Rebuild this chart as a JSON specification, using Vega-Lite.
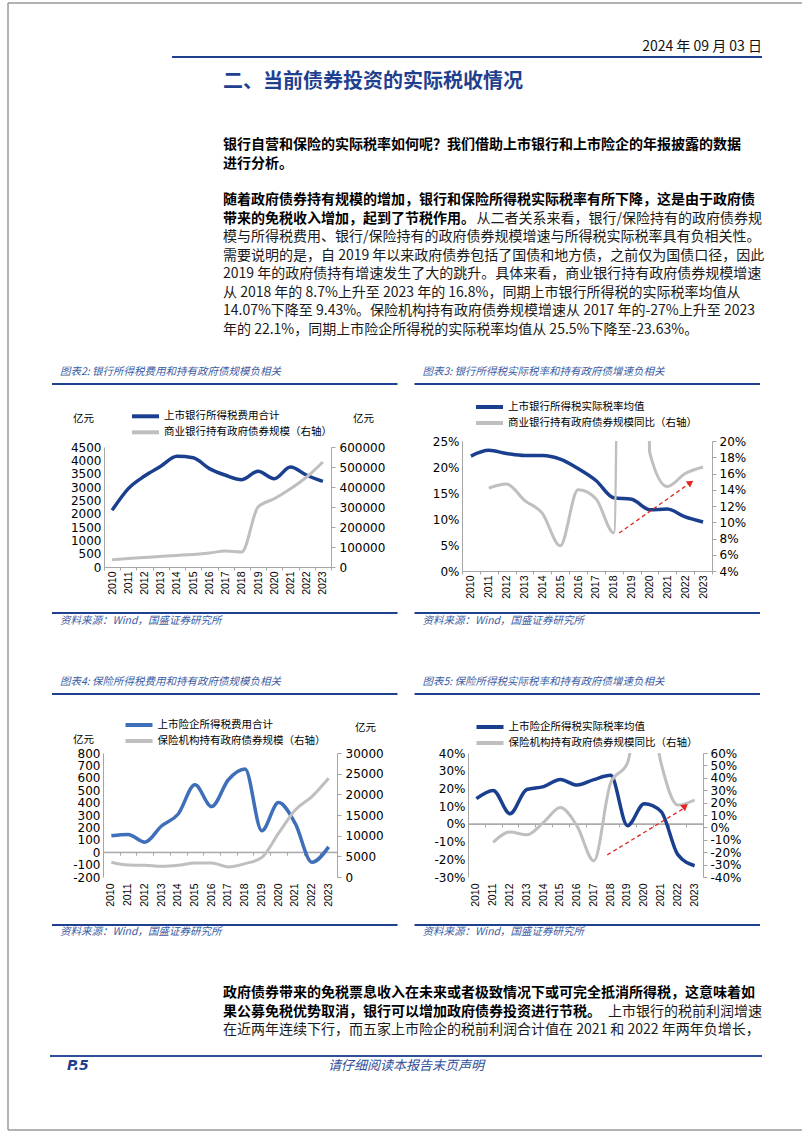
{
"$schema": "https://vega.github.io/schema/vega-lite/v6.json",
"padding": 0,
"background": "white",
"spacing": 0,
"bounds": "flush",
"config": {
 "view": {"stroke": null},
 "axis": {"grid": false, "labelColor": "#000000", "domainColor": "#A6A6A6", "tickColor": "#A6A6A6", "labelFont": "DejaVu Sans", "labelFontSize": 12, "titleFont": "Noto Sans CJK SC", "titleFontSize": 10.5, "titleFontWeight": "normal", "titleColor": "#000000", "titleAngle": 0, "titleAlign": "center", "titleBaseline": "middle", "tickSize": 3, "labelPadding": 2},
 "axisX": {"labelAngle": -90, "labelFontSize": 10.5, "labelFont": "Liberation Sans"},
 "legend": {"orient": "none", "symbolType": "M-2.25,0H2.25", "symbolSize": 144, "symbolStrokeWidth": 4, "labelFont": "Noto Sans CJK SC", "labelFontSize": 10.5, "labelColor": "#000000", "labelOffset": 10.5, "rowPadding": -1, "padding": 0, "labelLimit": 300}
},
"resolve": {"scale": {"x": "independent", "y": "independent", "color": "independent"}},
"vconcat": [
 {"width": 802, "height": 38,
  "resolve": {"scale": {"x": "independent", "y": "independent"}},
  "layer": [
   {"data": {"values": [{"e": "L"}, {"e": "R"}]},
    "mark": {"type": "rule", "color": "#9A9A9A", "strokeWidth": 1.5, "strokeJoin": "bevel"},
    "encoding": {
     "x": {"field": "e", "type": "nominal", "scale": {"type": "point", "domain": ["L", "R"], "range": [3, 799], "padding": 0}, "axis": null},
     "y": {"datum": 0, "type": "quantitative", "scale": {"domain": [0, 1], "range": [3, 1130], "nice": false, "zero": false}, "axis": null},
     "y2": {"datum": 1}}},
   {"data": {"values": [{"e": "T"}, {"e": "B"}]},
    "mark": {"type": "rule", "color": "#9A9A9A", "strokeWidth": 1.5, "strokeJoin": "bevel"},
    "encoding": {
     "y": {"field": "e", "type": "nominal", "scale": {"type": "point", "domain": ["T", "B"], "range": [3, 1130], "padding": 0}, "axis": null},
     "x": {"datum": 0, "type": "quantitative", "scale": {"domain": [0, 1], "range": [3, 799], "nice": false, "zero": false}, "axis": null},
     "x2": {"datum": 1}}}
  ]},
 {"width": 802, "height": 18,
  "data": {"values": [{"col": "body", "ln": 0, "t": "2024 年 09 月 03 日"}]},
  "mark": {"type": "text", "align": "right", "baseline": "middle", "font": "Noto Sans CJK SC", "fontSize": 14, "color": "#111111"},
  "encoding": {
   "x": {"field": "col", "type": "nominal", "scale": {"type": "band", "domain": ["body"], "range": [218, 757], "paddingInner": 0, "paddingOuter": 0}, "bandPosition": 1, "axis": null},
   "y": {"field": "ln", "type": "ordinal", "scale": {"type": "band", "paddingInner": 0, "paddingOuter": 0}, "axis": null},
   "text": {"field": "t"}}},
 {"width": 802, "height": 2,
  "data": {"values": [{"col": "hdr"}]},
  "mark": {"type": "rect", "color": "#1F3F8F"},
  "encoding": {"x": {"field": "col", "type": "nominal", "scale": {"type": "band", "domain": ["hdr"], "range": [167, 757], "paddingInner": 0, "paddingOuter": 0}, "axis": null}}},
 {"width": 802, "height": 48,
  "data": {"values": [{"col": "body", "ln": 0, "t": "二、当前债券投资的实际税收情况"}]},
  "mark": {"type": "text", "align": "left", "baseline": "middle", "font": "Noto Sans CJK SC", "fontSize": 20, "fontWeight": "bold", "color": "#1F3F8F"},
  "encoding": {
   "x": {"field": "col", "type": "nominal", "scale": {"type": "band", "domain": ["body"], "range": [218, 757], "paddingInner": 0, "paddingOuter": 0}, "bandPosition": 0, "axis": null},
   "y": {"field": "ln", "type": "ordinal", "scale": {"type": "band", "paddingInner": 0, "paddingOuter": 0}, "axis": null},
   "text": {"field": "t"}}},
 {"width": 802, "height": 30, "data": {"values": []}, "mark": "text"},
 {"width": 802, "height": 37,
  "data": {"values": [
   {"col": "body", "ln": 0, "w": "b", "t": "银行自营和保险的实际税率如何呢？我们借助上市银行和上市险企的年报披露的数据"},
   {"col": "body", "ln": 1, "w": "b", "t": "进行分析。"}
  ]},
  "mark": {"type": "text", "align": "left", "baseline": "middle", "font": "Noto Sans CJK SC", "fontSize": 14, "fontWeight": "bold", "color": "#000000"},
  "encoding": {
   "x": {"field": "col", "type": "nominal", "scale": {"type": "band", "domain": ["body"], "range": [218, 757], "paddingInner": 0, "paddingOuter": 0}, "bandPosition": 0, "axis": null},
   "y": {"field": "ln", "type": "ordinal", "scale": {"type": "band", "paddingInner": 0, "paddingOuter": 0}, "axis": null},
   "text": {"field": "t"}}},
 {"width": 802, "height": 18, "data": {"values": []}, "mark": "text"},
 {"width": 802, "height": 148,
  "data": {"values": [
   {"col": "body", "ln": 0, "w": "b", "a": "L", "t": "随着政府债券持有规模的增加，银行和保险所得税实际税率有所下降，这是由于政府债"},
   {"col": "body", "ln": 1, "w": "b", "a": "L", "t": "带来的免税收入增加，起到了节税作用。"},
   {"col": "body", "ln": 1, "w": "n", "a": "R", "t": "从二者关系来看，银行/保险持有的政府债券规"},
   {"col": "body", "ln": 2, "w": "n", "a": "L", "t": "模与所得税费用、银行/保险持有的政府债券规模增速与所得税实际税率具有负相关性。"},
   {"col": "body", "ln": 3, "w": "n", "a": "L", "t": "需要说明的是，自 2019 年以来政府债券包括了国债和地方债，之前仅为国债口径，因此"},
   {"col": "body", "ln": 4, "w": "n", "a": "L", "t": "2019 年的政府债持有增速发生了大的跳升。具体来看，商业银行持有政府债券规模增速"},
   {"col": "body", "ln": 5, "w": "n", "a": "L", "t": "从 2018 年的 8.7%上升至 2023 年的 16.8%，同期上市银行所得税的实际税率均值从"},
   {"col": "body", "ln": 6, "w": "n", "a": "L", "t": "14.07%下降至 9.43%。保险机构持有政府债券规模增速从 2017 年的-27%上升至 2023"},
   {"col": "body", "ln": 7, "w": "n", "a": "L", "t": "年的 22.1%，同期上市险企所得税的实际税率均值从 25.5%下降至-23.63%。"}
  ]},
  "encoding": {
   "y": {"field": "ln", "type": "ordinal", "scale": {"type": "band", "paddingInner": 0, "paddingOuter": 0}, "axis": null},
   "text": {"field": "t"}},
  "layer": [
   {"transform": [{"filter": "datum.w == 'b'"}],
    "mark": {"type": "text", "align": "left", "baseline": "middle", "font": "Noto Sans CJK SC", "fontSize": 14, "fontWeight": "bold", "color": "#000000"},
    "encoding": {"x": {"field": "col", "type": "nominal", "scale": {"type": "band", "domain": ["body"], "range": [218, 757], "paddingInner": 0, "paddingOuter": 0}, "bandPosition": 0, "axis": null}}},
   {"transform": [{"filter": "datum.w == 'n' && datum.a == 'L'"}],
    "mark": {"type": "text", "align": "left", "baseline": "middle", "font": "Noto Sans CJK SC", "fontSize": 14, "color": "#1A1A1A"},
    "encoding": {"x": {"field": "col", "type": "nominal", "scale": {"type": "band", "domain": ["body"], "range": [218, 757], "paddingInner": 0, "paddingOuter": 0}, "bandPosition": 0, "axis": null}}},
   {"transform": [{"filter": "datum.w == 'n' && datum.a == 'R'"}],
    "mark": {"type": "text", "align": "right", "baseline": "middle", "font": "Noto Sans CJK SC", "fontSize": 14, "color": "#1A1A1A"},
    "encoding": {"x": {"field": "col", "type": "nominal", "scale": {"type": "band", "domain": ["body"], "range": [218, 757], "paddingInner": 0, "paddingOuter": 0}, "bandPosition": 1, "axis": null}}}
  ]},
 {"width": 802, "height": 22, "data": {"values": []}, "mark": "text"},
 {"width": 802, "height": 22,
  "data": {"values": [
   {"p": "c2", "ln": 0, "t": "图表2: 银行所得税费用和持有政府债规模负相关"},
   {"p": "c3", "ln": 0, "t": "图表3: 银行所得税实际税率和持有政府债增速负相关"}
  ]},
  "mark": {"type": "text", "align": "left", "baseline": "middle", "dx": 8, "font": "Noto Sans CJK SC", "fontSize": 10.5, "fontStyle": "italic", "color": "#3A5CA3"},
  "encoding": {
   "x": {"field": "p", "type": "nominal", "scale": {"type": "band", "domain": ["c2", "c3"], "range": [47, 755], "paddingInner": 0.047, "paddingOuter": 0}, "bandPosition": 0, "axis": null},
   "y": {"field": "ln", "type": "ordinal", "scale": {"type": "band", "paddingInner": 0, "paddingOuter": 0}, "axis": null},
   "text": {"field": "t"}}},
 {"width": 802, "height": 2,
  "data": {"values": [{"p": "c2"}, {"p": "c3"}]},
  "mark": {"type": "rect", "color": "#1F3F8F"},
  "encoding": {"x": {"field": "p", "type": "nominal", "scale": {"type": "band", "domain": ["c2", "c3"], "range": [47, 755], "paddingInner": 0.047, "paddingOuter": 0}, "axis": null}}},
 {"width": 802, "height": 56, "data": {"values": []}, "mark": "text"},
 {"width": 802, "height": 130,
  "resolve": {"scale": {"x": "independent", "y": "independent", "color": "independent"}},
  "layer": [
   {"data": {"values": [
     {"year": "2010", "tax": 2125, "gov": 36700},
     {"year": "2011", "tax": 2940, "gov": 43000},
     {"year": "2012", "tax": 3410, "gov": 48000},
     {"year": "2013", "tax": 3775, "gov": 53000},
     {"year": "2014", "tax": 4150, "gov": 58000},
     {"year": "2015", "tax": 4100, "gov": 63000},
     {"year": "2016", "tax": 3690, "gov": 70000},
     {"year": "2017", "tax": 3440, "gov": 80000},
     {"year": "2018", "tax": 3275, "gov": 75000},
     {"year": "2019", "tax": 3590, "gov": 300000},
     {"year": "2020", "tax": 3310, "gov": 341000},
     {"year": "2021", "tax": 3750, "gov": 391000},
     {"year": "2022", "tax": 3440, "gov": 450000},
     {"year": "2023", "tax": 3210, "gov": 525000}
    ]},
    "resolve": {"scale": {"y": "independent"}},
    "layer": [
     {"mark": {"type": "line", "interpolate": "monotone", "strokeWidth": 3.5},
      "encoding": {
       "x": {"field": "year", "type": "ordinal", "scale": {"type": "band", "range": [99, 326], "paddingInner": 0, "paddingOuter": 0}, "axis": {"orient": "bottom", "offset": -4, "title": null, "tickBand": "extent", "tickSize": 3, "labelPadding": 1}},
       "y": {"field": "tax", "type": "quantitative", "scale": {"domain": [0, 4500], "range": [126, 6], "nice": false, "zero": false}, "axis": {"orient": "left", "offset": -99, "values": [0, 500, 1000, 1500, 2000, 2500, 3000, 3500, 4000, 4500], "labelExpr": "'' + datum.value", "title": "亿元", "titleX": -21, "titleY": -23, "ticks": false, "labelPadding": 3}},
       "color": {"datum": "上市银行所得税费用合计", "type": "nominal", "scale": {"domain": ["上市银行所得税费用合计", "商业银行持有政府债券规模（右轴）"], "range": ["#1A3F8F", "#BFBFBF"]}, "legend": {"title": null, "legendX": 132.5, "legendY": -32.7}}}},
     {"mark": {"type": "line", "interpolate": "monotone", "strokeWidth": 3},
      "encoding": {
       "x": {"field": "year", "type": "ordinal", "scale": {"type": "band", "range": [99, 326], "paddingInner": 0, "paddingOuter": 0}, "axis": {"orient": "bottom", "offset": -4, "title": null, "tickBand": "extent", "tickSize": 3, "labelPadding": 1}},
       "y": {"field": "gov", "type": "quantitative", "scale": {"domain": [0, 600000], "range": [126, 6], "nice": false, "zero": false}, "axis": {"orient": "right", "offset": -476, "values": [0, 100000, 200000, 300000, 400000, 500000, 600000], "labelExpr": "'' + datum.value", "title": "亿元", "titleX": 32, "titleY": -23, "tickSize": 4, "labelPadding": 4}},
       "color": {"datum": "商业银行持有政府债券规模（右轴）", "type": "nominal", "scale": {"domain": ["上市银行所得税费用合计", "商业银行持有政府债券规模（右轴）"], "range": ["#1A3F8F", "#BFBFBF"]}, "legend": {"title": null, "legendX": 132.5, "legendY": -32.7}}}}
    ]},
   {"resolve": {"scale": {"x": "independent", "y": "independent"}},
    "layer": [
     {"data": {"values": [
       {"year": "2010", "rate": 22.1},
       {"year": "2011", "rate": 23.2, "g": 14.2},
       {"year": "2012", "rate": 22.6, "g": 14.7},
       {"year": "2013", "rate": 22.2, "g": 12.7},
       {"year": "2014", "rate": 22.2, "g": 11.1},
       {"year": "2015", "rate": 21.5, "g": 7.1},
       {"year": "2016", "rate": 19.7, "g": 14.0},
       {"year": "2017", "rate": 17.4, "g": 12.9},
       {"year": "2018", "rate": 14.07, "g": 8.7},
       {"year": "2019", "rate": 13.8, "g": 300},
       {"year": "2020", "rate": 11.8, "g": 18.7},
       {"year": "2021", "rate": 11.9, "g": 14.4},
       {"year": "2022", "rate": 10.4, "g": 16.0},
       {"year": "2023", "rate": 9.43, "g": 16.8}
      ]},
      "resolve": {"scale": {"y": "independent"}},
      "layer": [
       {"mark": {"type": "line", "interpolate": "monotone", "strokeWidth": 3.5},
        "encoding": {
         "x": {"field": "year", "type": "ordinal", "scale": {"type": "band", "range": [457, 707], "paddingInner": 0, "paddingOuter": 0}, "axis": {"orient": "bottom", "offset": 0, "title": null, "tickBand": "extent", "tickSize": 3, "labelPadding": 1}},
         "y": {"field": "rate", "type": "quantitative", "scale": {"domain": [0, 25], "range": [130, 0], "nice": false, "zero": false}, "axis": {"orient": "left", "offset": -457, "values": [0, 5, 10, 15, 20, 25], "labelExpr": "datum.value + '%'", "title": null, "ticks": false, "labelPadding": 3}},
         "color": {"datum": "上市银行所得税实际税率均值", "type": "nominal", "scale": {"domain": ["上市银行所得税实际税率均值", "商业银行持有政府债券规模同比（右轴）"], "range": ["#1A3F8F", "#BFBFBF"]}, "legend": {"title": null, "legendX": 476.5, "legendY": -42}}}},
       {"mark": {"type": "line", "interpolate": "monotone", "strokeWidth": 3, "clip": true},
        "encoding": {
         "x": {"field": "year", "type": "ordinal", "scale": {"type": "band", "range": [457, 707], "paddingInner": 0, "paddingOuter": 0}, "axis": {"orient": "bottom", "offset": 0, "title": null, "tickBand": "extent", "tickSize": 3, "labelPadding": 1}},
         "y": {"field": "g", "type": "quantitative", "scale": {"domain": [4, 20], "range": [130, 0], "nice": false, "zero": false}, "axis": {"orient": "right", "offset": -95, "values": [4, 6, 8, 10, 12, 14, 16, 18, 20], "labelExpr": "datum.value + '%'", "title": null, "tickSize": 4, "labelPadding": 3}},
         "color": {"datum": "商业银行持有政府债券规模同比（右轴）", "type": "nominal", "scale": {"domain": ["上市银行所得税实际税率均值", "商业银行持有政府债券规模同比（右轴）"], "range": ["#1A3F8F", "#BFBFBF"]}, "legend": {"title": null, "legendX": 476.5, "legendY": -42}}}}
      ]},
     {"data": {"values": [{"x1": 2018.3, "y1": 7.3, "x2": 2022.3, "y2": 17.0}]},
      "layer": [
       {"mark": {"type": "rule", "color": "#E0261E", "strokeWidth": 1.3, "strokeDash": [4, 3]},
        "encoding": {
         "x": {"field": "x1", "type": "quantitative", "scale": {"domain": [2009.5, 2023.5], "range": [457, 707], "nice": false, "zero": false}, "axis": null},
         "x2": {"field": "x2"},
         "y": {"field": "y1", "type": "quantitative", "scale": {"domain": [0, 25], "range": [130, 0], "nice": false, "zero": false}, "axis": null},
         "y2": {"field": "y2"}}},
       {"mark": {"type": "point", "shape": "triangle-up", "filled": true, "size": 55, "angle": 55, "color": "#E0261E", "opacity": 1},
        "encoding": {
         "x": {"field": "x2", "type": "quantitative", "scale": {"domain": [2009.5, 2023.5], "range": [457, 707], "nice": false, "zero": false}, "axis": null},
         "y": {"field": "y2", "type": "quantitative", "scale": {"domain": [0, 25], "range": [130, 0], "nice": false, "zero": false}, "axis": null}}}
      ]}
    ]}
  ]},
 {"width": 802, "height": 41, "data": {"values": []}, "mark": "text"},
 {"width": 802, "height": 2,
  "data": {"values": [{"p": "c2"}, {"p": "c3"}]},
  "mark": {"type": "rect", "color": "#1F3F8F"},
  "encoding": {"x": {"field": "p", "type": "nominal", "scale": {"type": "band", "domain": ["c2", "c3"], "range": [47, 755], "paddingInner": 0.047, "paddingOuter": 0}, "axis": null}}},
 {"width": 802, "height": 14,
  "data": {"values": [
   {"p": "c2", "ln": 0, "t": "资料来源：Wind，国盛证券研究所"},
   {"p": "c3", "ln": 0, "t": "资料来源：Wind，国盛证券研究所"}
  ]},
  "mark": {"type": "text", "align": "left", "baseline": "middle", "dx": 8, "font": "Noto Sans CJK SC", "fontSize": 10.5, "fontStyle": "italic", "color": "#3A5CA3"},
  "encoding": {
   "x": {"field": "p", "type": "nominal", "scale": {"type": "band", "domain": ["c2", "c3"], "range": [47, 755], "paddingInner": 0.047, "paddingOuter": 0}, "bandPosition": 0, "axis": null},
   "y": {"field": "ln", "type": "ordinal", "scale": {"type": "band", "paddingInner": 0, "paddingOuter": 0}, "axis": null},
   "text": {"field": "t"}}},
 {"width": 802, "height": 43, "data": {"values": []}, "mark": "text"},
 {"width": 802, "height": 22,
  "data": {"values": [
   {"p": "c4", "ln": 0, "t": "图表4: 保险所得税费用和持有政府债规模负相关"},
   {"p": "c5", "ln": 0, "t": "图表5: 保险所得税实际税率和持有政府债增速负相关"}
  ]},
  "mark": {"type": "text", "align": "left", "baseline": "middle", "dx": 8, "font": "Noto Sans CJK SC", "fontSize": 10.5, "fontStyle": "italic", "color": "#3A5CA3"},
  "encoding": {
   "x": {"field": "p", "type": "nominal", "scale": {"type": "band", "domain": ["c4", "c5"], "range": [47, 755], "paddingInner": 0.047, "paddingOuter": 0}, "bandPosition": 0, "axis": null},
   "y": {"field": "ln", "type": "ordinal", "scale": {"type": "band", "paddingInner": 0, "paddingOuter": 0}, "axis": null},
   "text": {"field": "t"}}},
 {"width": 802, "height": 2,
  "data": {"values": [{"p": "c4"}, {"p": "c5"}]},
  "mark": {"type": "rect", "color": "#1F3F8F"},
  "encoding": {"x": {"field": "p", "type": "nominal", "scale": {"type": "band", "domain": ["c4", "c5"], "range": [47, 755], "paddingInner": 0.047, "paddingOuter": 0}, "axis": null}}},
 {"width": 802, "height": 58, "data": {"values": []}, "mark": "text"},
 {"width": 802, "height": 124,
  "resolve": {"scale": {"x": "independent", "y": "independent", "color": "independent"}},
  "layer": [
   {"resolve": {"scale": {"x": "independent", "y": "independent"}},
    "layer": [
     {"data": {"values": [{"a": 2009.5, "b": 2023.5, "z": 0}]},
      "mark": {"type": "rule", "color": "#A6A6A6", "strokeWidth": 1},
      "encoding": {
       "x": {"field": "a", "type": "quantitative", "scale": {"domain": [2009.5, 2023.5], "range": [98, 332], "nice": false, "zero": false}, "axis": {"orient": "bottom", "offset": -24.8, "values": [2009.5, 2010.5, 2011.5, 2012.5, 2013.5, 2014.5, 2015.5, 2016.5, 2017.5, 2018.5, 2019.5, 2020.5, 2021.5, 2022.5, 2023.5], "labels": false, "title": null, "tickSize": 3}},
       "x2": {"field": "b"},
       "y": {"field": "z", "type": "quantitative", "scale": {"domain": [-200, 800], "range": [124, 0], "nice": false, "zero": false}, "axis": null}}},
     {"data": {"values": [
       {"year": "2010", "tax": 132, "gov": 3570},
       {"year": "2011", "tax": 143, "gov": 2900},
       {"year": "2012", "tax": 81, "gov": 2840},
       {"year": "2013", "tax": 211, "gov": 2600},
       {"year": "2014", "tax": 308, "gov": 2840},
       {"year": "2015", "tax": 543, "gov": 3400},
       {"year": "2016", "tax": 368, "gov": 3400},
       {"year": "2017", "tax": 584, "gov": 2430},
       {"year": "2018", "tax": 670, "gov": 3240},
       {"year": "2019", "tax": 173, "gov": 4700},
       {"year": "2020", "tax": 400, "gov": 10540},
       {"year": "2021", "tax": 232, "gov": 16200},
       {"year": "2022", "tax": -81, "gov": 19460},
       {"year": "2023", "tax": 43, "gov": 23900}
      ]},
      "resolve": {"scale": {"y": "independent"}},
      "layer": [
       {"mark": {"type": "line", "interpolate": "monotone", "strokeWidth": 3.5},
        "encoding": {
         "x": {"field": "year", "type": "ordinal", "scale": {"type": "band", "range": [98, 332], "paddingInner": 0, "paddingOuter": 0}, "axis": {"orient": "bottom", "offset": 0, "title": null, "domain": false, "ticks": false, "labelPadding": 6}},
         "y": {"field": "tax", "type": "quantitative", "scale": {"domain": [-200, 800], "range": [124, 0], "nice": false, "zero": false}, "axis": {"orient": "left", "offset": -98, "values": [-200, -100, 0, 100, 200, 300, 400, 500, 600, 700, 800], "labelExpr": "'' + datum.value", "title": "亿元", "titleX": -20, "titleY": -14, "ticks": false, "labelPadding": 3}},
         "color": {"datum": "上市险企所得税费用合计", "type": "nominal", "scale": {"domain": ["上市险企所得税费用合计", "保险机构持有政府债券规模（右轴）"], "range": ["#3F6FB8", "#BFBFBF"]}, "legend": {"title": null, "legendX": 126, "legendY": -36}}}},
       {"mark": {"type": "line", "interpolate": "monotone", "strokeWidth": 3},
        "encoding": {
         "x": {"field": "year", "type": "ordinal", "scale": {"type": "band", "range": [98, 332], "paddingInner": 0, "paddingOuter": 0}, "axis": {"orient": "bottom", "offset": 0, "title": null, "domain": false, "ticks": false, "labelPadding": 6}},
         "y": {"field": "gov", "type": "quantitative", "scale": {"domain": [0, 30000], "range": [124, 0], "nice": false, "zero": false}, "axis": {"orient": "right", "offset": -470, "values": [0, 5000, 10000, 15000, 20000, 25000, 30000], "labelExpr": "'' + datum.value", "title": "亿元", "titleX": 28, "titleY": -26, "tickSize": 4, "labelPadding": 4}},
         "color": {"datum": "保险机构持有政府债券规模（右轴）", "type": "nominal", "scale": {"domain": ["上市险企所得税费用合计", "保险机构持有政府债券规模（右轴）"], "range": ["#3F6FB8", "#BFBFBF"]}, "legend": {"title": null, "legendX": 126, "legendY": -36}}}}
      ]}
    ]},
   {"resolve": {"scale": {"x": "independent", "y": "independent"}},
    "layer": [
     {"data": {"values": [{"a": 2009.5, "b": 2023.5, "z": 0}]},
      "mark": {"type": "rule", "color": "#A6A6A6", "strokeWidth": 1},
      "encoding": {
       "x": {"field": "a", "type": "quantitative", "scale": {"domain": [2009.5, 2023.5], "range": [463, 698], "nice": false, "zero": false}, "axis": {"orient": "bottom", "offset": -53.1, "values": [2009.5, 2010.5, 2011.5, 2012.5, 2013.5, 2014.5, 2015.5, 2016.5, 2017.5, 2018.5, 2019.5, 2020.5, 2021.5, 2022.5, 2023.5], "labels": false, "title": null, "tickSize": 3}},
       "x2": {"field": "b"},
       "y": {"field": "z", "type": "quantitative", "scale": {"domain": [-30, 40], "range": [124, 0], "nice": false, "zero": false}, "axis": null}}},
     {"data": {"values": [
       {"year": "2010", "rate": 14.2},
       {"year": "2011", "rate": 18.9, "g": -12},
       {"year": "2012", "rate": 5.7, "g": -3.8},
       {"year": "2013", "rate": 19.4, "g": -6},
       {"year": "2014", "rate": 21, "g": 4},
       {"year": "2015", "rate": 25, "g": 16},
       {"year": "2016", "rate": 21.9, "g": 1},
       {"year": "2017", "rate": 25, "g": -27},
       {"year": "2018", "rate": 27.4, "g": 36},
       {"year": "2019", "rate": -1, "g": 52},
       {"year": "2020", "rate": 11.3, "g": 124},
       {"year": "2021", "rate": 7, "g": 52},
       {"year": "2022", "rate": -17.4, "g": 18},
       {"year": "2023", "rate": -23.63, "g": 22.1}
      ]},
      "resolve": {"scale": {"y": "independent"}},
      "layer": [
       {"mark": {"type": "line", "interpolate": "monotone", "strokeWidth": 3.5},
        "encoding": {
         "x": {"field": "year", "type": "ordinal", "scale": {"type": "band", "range": [463, 698], "paddingInner": 0, "paddingOuter": 0}, "axis": {"orient": "bottom", "offset": 0, "title": null, "domain": false, "ticks": false, "labelPadding": 6}},
         "y": {"field": "rate", "type": "quantitative", "scale": {"domain": [-30, 40], "range": [124, 0], "nice": false, "zero": false}, "axis": {"orient": "left", "offset": -463, "values": [-30, -20, -10, 0, 10, 20, 30, 40], "labelExpr": "datum.value + '%'", "title": null, "ticks": false, "labelPadding": 3}},
         "color": {"datum": "上市险企所得税实际税率均值", "type": "nominal", "scale": {"domain": ["上市险企所得税实际税率均值", "保险机构持有政府债券规模同比（右轴）"], "range": ["#1A3F8F", "#BFBFBF"]}, "legend": {"title": null, "legendX": 477, "legendY": -34}}}},
       {"mark": {"type": "line", "interpolate": "monotone", "strokeWidth": 3, "clip": true},
        "encoding": {
         "x": {"field": "year", "type": "ordinal", "scale": {"type": "band", "range": [463, 698], "paddingInner": 0, "paddingOuter": 0}, "axis": {"orient": "bottom", "offset": 0, "title": null, "domain": false, "ticks": false, "labelPadding": 6}},
         "y": {"field": "g", "type": "quantitative", "scale": {"domain": [-40, 60], "range": [124, 0], "nice": false, "zero": false}, "axis": {"orient": "right", "offset": -104, "values": [-40, -30, -20, -10, 0, 10, 20, 30, 40, 50, 60], "labelExpr": "datum.value + '%'", "title": null, "tickSize": 4, "labelPadding": 3}},
         "color": {"datum": "保险机构持有政府债券规模同比（右轴）", "type": "nominal", "scale": {"domain": ["上市险企所得税实际税率均值", "保险机构持有政府债券规模同比（右轴）"], "range": ["#1A3F8F", "#BFBFBF"]}, "legend": {"title": null, "legendX": 477, "legendY": -34}}}}
      ]},
     {"data": {"values": [{"x1": 2017.8, "y1": -17.5, "x2": 2022.4, "y2": 9.0}]},
      "layer": [
       {"mark": {"type": "rule", "color": "#E0261E", "strokeWidth": 1.3, "strokeDash": [4, 3]},
        "encoding": {
         "x": {"field": "x1", "type": "quantitative", "scale": {"domain": [2009.5, 2023.5], "range": [463, 698], "nice": false, "zero": false}, "axis": null},
         "x2": {"field": "x2"},
         "y": {"field": "y1", "type": "quantitative", "scale": {"domain": [-30, 40], "range": [124, 0], "nice": false, "zero": false}, "axis": null},
         "y2": {"field": "y2"}}},
       {"mark": {"type": "point", "shape": "triangle-down", "filled": true, "size": 60, "angle": -10, "color": "#E0261E", "opacity": 1},
        "encoding": {
         "x": {"field": "x2", "type": "quantitative", "scale": {"domain": [2009.5, 2023.5], "range": [463, 698], "nice": false, "zero": false}, "axis": null},
         "y": {"field": "y2", "type": "quantitative", "scale": {"domain": [-30, 40], "range": [124, 0], "nice": false, "zero": false}, "axis": null}}}
      ]}
    ]}
  ]},
 {"width": 802, "height": 47, "data": {"values": []}, "mark": "text"},
 {"width": 802, "height": 2,
  "data": {"values": [{"p": "c4"}, {"p": "c5"}]},
  "mark": {"type": "rect", "color": "#1F3F8F"},
  "encoding": {"x": {"field": "p", "type": "nominal", "scale": {"type": "band", "domain": ["c4", "c5"], "range": [47, 755], "paddingInner": 0.047, "paddingOuter": 0}, "axis": null}}},
 {"width": 802, "height": 12,
  "data": {"values": [
   {"p": "c4", "ln": 0, "t": "资料来源：Wind，国盛证券研究所"},
   {"p": "c5", "ln": 0, "t": "资料来源：Wind，国盛证券研究所"}
  ]},
  "mark": {"type": "text", "align": "left", "baseline": "middle", "dx": 8, "font": "Noto Sans CJK SC", "fontSize": 10.5, "fontStyle": "italic", "color": "#3A5CA3"},
  "encoding": {
   "x": {"field": "p", "type": "nominal", "scale": {"type": "band", "domain": ["c4", "c5"], "range": [47, 755], "paddingInner": 0.047, "paddingOuter": 0}, "bandPosition": 0, "axis": null},
   "y": {"field": "ln", "type": "ordinal", "scale": {"type": "band", "paddingInner": 0, "paddingOuter": 0}, "axis": null},
   "text": {"field": "t"}}},
 {"width": 802, "height": 46, "data": {"values": []}, "mark": "text"},
 {"width": 802, "height": 55,
  "data": {"values": [
   {"col": "body", "ln": 0, "w": "b", "a": "L", "t": "政府债券带来的免税票息收入在未来或者极致情况下或可完全抵消所得税，这意味着如"},
   {"col": "body", "ln": 1, "w": "b", "a": "L", "t": "果公募免税优势取消，银行可以增加政府债券投资进行节税。"},
   {"col": "body", "ln": 1, "w": "n", "a": "R", "t": "上市银行的税前利润增速"},
   {"col": "body", "ln": 2, "w": "n", "a": "L", "t": "在近两年连续下行，而五家上市险企的税前利润合计值在 2021 和 2022 年两年负增长，"}
  ]},
  "encoding": {
   "y": {"field": "ln", "type": "ordinal", "scale": {"type": "band", "paddingInner": 0, "paddingOuter": 0}, "axis": null},
   "text": {"field": "t"}},
  "layer": [
   {"transform": [{"filter": "datum.w == 'b'"}],
    "mark": {"type": "text", "align": "left", "baseline": "middle", "font": "Noto Sans CJK SC", "fontSize": 14, "fontWeight": "bold", "color": "#000000"},
    "encoding": {"x": {"field": "col", "type": "nominal", "scale": {"type": "band", "domain": ["body"], "range": [218, 757], "paddingInner": 0, "paddingOuter": 0}, "bandPosition": 0, "axis": null}}},
   {"transform": [{"filter": "datum.w == 'n' && datum.a == 'L'"}],
    "mark": {"type": "text", "align": "left", "baseline": "middle", "font": "Noto Sans CJK SC", "fontSize": 14, "color": "#1A1A1A"},
    "encoding": {"x": {"field": "col", "type": "nominal", "scale": {"type": "band", "domain": ["body"], "range": [218, 757], "paddingInner": 0, "paddingOuter": 0}, "bandPosition": 0, "axis": null}}},
   {"transform": [{"filter": "datum.w == 'n' && datum.a == 'R'"}],
    "mark": {"type": "text", "align": "right", "baseline": "middle", "font": "Noto Sans CJK SC", "fontSize": 14, "color": "#1A1A1A"},
    "encoding": {"x": {"field": "col", "type": "nominal", "scale": {"type": "band", "domain": ["body"], "range": [218, 757], "paddingInner": 0, "paddingOuter": 0}, "bandPosition": 1, "axis": null}}}
  ]},
 {"width": 802, "height": 16, "data": {"values": []}, "mark": "text"},
 {"width": 802, "height": 2,
  "data": {"values": [{"col": "pg"}]},
  "mark": {"type": "rect", "color": "#2F4F9A"},
  "encoding": {"x": {"field": "col", "type": "nominal", "scale": {"type": "band", "domain": ["pg"], "range": [45, 757], "paddingInner": 0, "paddingOuter": 0}, "axis": null}}},
 {"width": 802, "height": 18,
  "encoding": {
   "y": {"field": "ln", "type": "ordinal", "scale": {"type": "band", "paddingInner": 0, "paddingOuter": 0}, "axis": null},
   "text": {"field": "t"}},
  "layer": [
   {"data": {"values": [{"col": "pg", "ln": 0, "t": "P.5"}]},
    "mark": {"type": "text", "align": "left", "baseline": "middle", "dx": 17, "font": "DejaVu Sans", "fontSize": 14, "fontWeight": "bold", "fontStyle": "italic", "color": "#1F3F8F"},
    "encoding": {"x": {"field": "col", "type": "nominal", "scale": {"type": "band", "domain": ["pg"], "range": [45, 757], "paddingInner": 0, "paddingOuter": 0}, "bandPosition": 0, "axis": null}}},
   {"data": {"values": [{"col": "pg", "ln": 0, "t": "请仔细阅读本报告末页声明"}]},
    "mark": {"type": "text", "align": "center", "baseline": "middle", "font": "Noto Sans CJK SC", "fontSize": 13, "fontStyle": "italic", "color": "#2F4F9A"},
    "encoding": {"x": {"field": "col", "type": "nominal", "scale": {"type": "band", "domain": ["pg"], "range": [45, 757], "paddingInner": 0, "paddingOuter": 0}, "bandPosition": 0.5, "axis": null}}}
  ]},
 {"width": 802, "height": 58, "data": {"values": []}, "mark": "text"}
]
}
